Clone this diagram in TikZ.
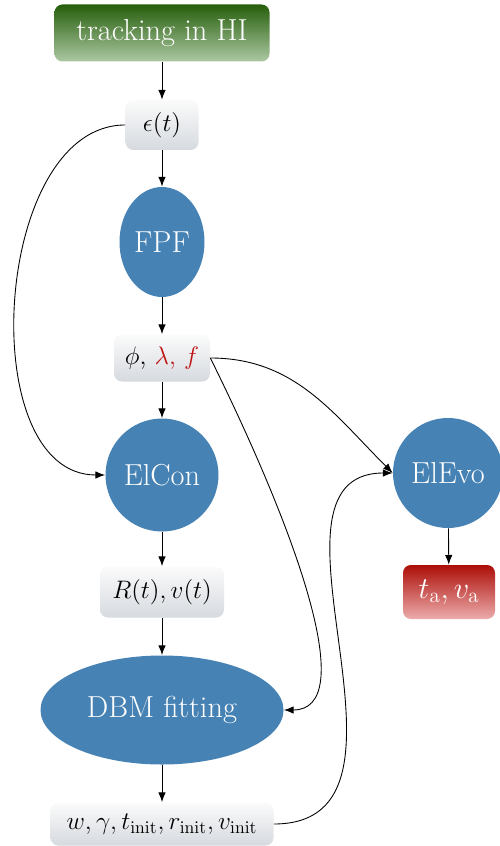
\documentclass[tikz,border=0pt]{standalone}
\usetikzlibrary{arrows.meta,shapes.geometric}

\definecolor{modelblue}{RGB}{70,130,180}
\definecolor{hitop}{RGB}{38,94,12}
\definecolor{hibottom}{RGB}{172,200,162}
\definecolor{restop}{RGB}{172,14,8}
\definecolor{resbottom}{RGB}{236,172,172}
\definecolor{partop}{RGB}{251,251,251}
\definecolor{parbottom}{RGB}{214,218,223}
\definecolor{parred}{RGB}{190,20,20}

\tikzset{
  param/.style={rounded corners=4.5pt, top color=partop, bottom color=parbottom,
                inner sep=0pt, font=\Large},
  model/.style={fill=modelblue, text=white, inner sep=0pt, font=\LARGE},
  link/.style={line width=0.5pt, -{Latex[length=5.5pt,width=4.2pt]}},
}

\begin{document}
\begin{tikzpicture}
\useasboundingbox (0,0) rectangle (10,-16.92);

% Drawing input box
\node [param, top color=hitop, bottom color=hibottom, text=white, font=\LARGE,
       minimum width=4.3cm, minimum height=1.14cm] (track) at (3.24,-0.66) {tracking in HI};

% Drawing parameter box eps
\node [param, minimum width=1.46cm, minimum height=1.0cm] (eps) at (3.24,-2.5) {$\epsilon(t)$};

% Drawing model FPF
\node [model, ellipse, minimum width=1.7cm, minimum height=2.2cm] (fpf) at (3.24,-4.84) {FPF};

% Drawing parameter box phi
\node [param, minimum width=1.92cm, minimum height=0.94cm] (phi) at (3.24,-7.16)
      {$\phi$, \textcolor{parred}{$\lambda$, $f$}};

% Drawing model ElCon
\node [model, circle, minimum size=2.26cm] (elcon) at (3.24,-9.5) {ElCon};

% Drawing parameter box R v
\node [param, minimum width=2.48cm, minimum height=1.02cm] (rv) at (3.24,-11.84) {$R(t), v(t)$};

% Drawing model DBM
\node [model, ellipse, minimum width=4.86cm, minimum height=2.18cm] (dbm) at (3.24,-14.2) {DBM fitting};

% Drawing parameter box of DBM
\node [param, minimum width=4.46cm, minimum height=0.86cm] (dbmpar) at (3.24,-16.48)
      {$w, \gamma, t_{\rm init}, r_{\rm init}, v_{\rm init}$};

% Drawing model ElEvo
\node [model, circle, minimum size=2.2cm] (elevo) at (8.96,-9.46) {ElEvo};

% Drawing result box
\node [param, top color=restop, bottom color=resbottom, text=white, font=\LARGE,
       minimum width=1.84cm, minimum height=1.08cm] (arr) at (8.98,-11.84) {$t_{\rm a}, v_{\rm a}$};

% Drawing main chain
\draw [link] (track) -- (eps);
\draw [link] (eps) -- (fpf);
\draw [link] (fpf) -- (phi);
\draw [link] (phi) -- (elcon);
\draw [link] (elcon) -- (rv);
\draw [link] (rv) -- (dbm);
\draw [link] (dbm) -- (dbmpar);
\draw [link] (elevo) -- (arr);

% Drawing side links
\draw [link] (eps.west) .. controls +(-2.65,0) and +(-2.65,0) .. (elcon.west);
\draw [link] (phi.east) to [out=0,in=135] (elevo.west);
\draw [link] (phi.east) .. controls +(1.8,-3.64) and +(1.5,0) .. (dbm.east);
\draw [link] (dbmpar.east) .. controls +(3.4,0) and +(-3,0) .. (elevo.west);
\end{tikzpicture}
\end{document}
